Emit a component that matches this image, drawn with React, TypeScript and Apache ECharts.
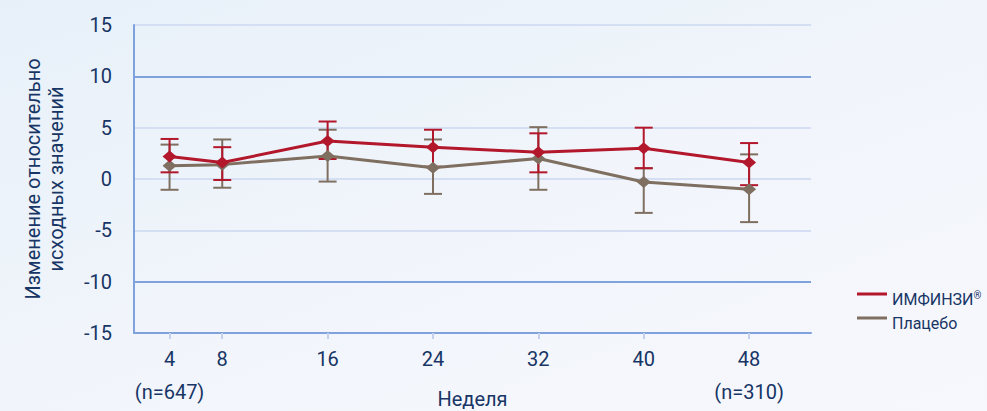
import React, { useEffect, useRef } from "react";
import * as echarts from "echarts";

const weeks = [4, 8, 16, 24, 32, 40, 48];
const tickLabels = ["4\n(n=647)", "8", "16", "24", "32", "40", "48\n(n=310)"];
const imfinziMean = [2.2, 1.6, 3.7, 3.1, 2.6, 3.0, 1.6];
const imfinziUpper = [3.9, 3.1, 5.6, 4.8, 4.45, 5.0, 3.5];
const imfinziLower = [0.65, -0.1, 1.95, 1.2, 0.65, 1.05, -0.6];
const placeboMean = [1.3, 1.4, 2.25, 1.1, 2.0, -0.3, -1.0];
const placeboUpper = [3.35, 3.85, 4.8, 3.85, 5.05, 1.05, 2.4];
const placeboLower = [-1.05, -0.85, -0.25, -1.45, -1.05, -3.3, -4.2];

const RED = "#b3172b";
const BROWN = "#7f6f60";
const TEXT = "#173565";
const FONT = "Roboto, 'Noto Sans', sans-serif";

function errorSeries(name: string, lows: number[], highs: number[], color: string) {
  return {
    type: "custom",
    name: name + "_err",
    silent: true,
    data: weeks.map((w, i) => [w, lows[i], highs[i]]),
    renderItem: (params: any, api: any) => {
      const x = api.value(0);
      const lo = api.coord([x, api.value(1)]);
      const hi = api.coord([x, api.value(2)]);
      const hw = 9;
      const style = { stroke: color, lineWidth: 2 };
      return {
        type: "group",
        children: [
          { type: "line", shape: { x1: lo[0], y1: lo[1], x2: hi[0], y2: hi[1] }, style },
          { type: "line", shape: { x1: lo[0] - hw, y1: lo[1], x2: lo[0] + hw, y2: lo[1] }, style },
          { type: "line", shape: { x1: hi[0] - hw, y1: hi[1], x2: hi[0] + hw, y2: hi[1] }, style },
        ],
      };
    },
    z: 2,
  };
}

export default function App() {
  const ref = useRef<HTMLDivElement>(null);
  useEffect(() => {
    if (!ref.current) return;
    const chart = echarts.init(ref.current, null, { renderer: "svg" });
    chart.setOption({
      animation: false,
      backgroundColor: "transparent",
      textStyle: { fontFamily: FONT },
      grid: { left: 134, right: 176, top: 25, bottom: 78, containLabel: false, outerBoundsMode: "none" },
      legend: {
        orient: "vertical",
        left: 852,
        top: 285,
        itemWidth: 30,
        itemHeight: 3,
        itemGap: 8,
        icon: "rect",
        data: ["ИМФИНЗИ", "Плацебо"],
        formatter: (n: string) => (n === "ИМФИНЗИ" ? "ИМФИНЗИ{sup|®}" : n),
        textStyle: {
          color: TEXT,
          fontSize: 16,
          fontFamily: FONT,
          padding: [10, 0, 0, 0],
          rich: { sup: { fontSize: 10, verticalAlign: "top", padding: [0, 0, 8, 0], color: TEXT } },
        },
      },
      xAxis: {
        type: "value",
        min: 1.3,
        max: 52.7,
        name: "Неделя",
        nameLocation: "middle",
        nameGap: 56,
        nameMoveOverlap: false,
        nameTextStyle: { color: TEXT, fontSize: 20, fontFamily: FONT },
        axisLine: { show: true, onZero: false, lineStyle: { color: "#7fa1dc", width: 2 } },
        axisTick: { show: true, customValues: weeks, length: 6, lineStyle: { color: "#c3d1ef", width: 2 } },
        axisLabel: {
          customValues: weeks,
          margin: 9,
          color: TEXT,
          fontSize: 20,
          lineHeight: 33,
          fontFamily: FONT,
          formatter: (v: number) => {
            const i = weeks.indexOf(v);
            return i >= 0 ? tickLabels[i] : "";
          },
        },
        splitLine: { show: false },
      },
      yAxis: {
        type: "value",
        min: -15,
        max: 15,
        interval: 5,
        name: "Изменение относительно\nисходных значений",
        nameLocation: "middle",
        nameRotate: 90,
        nameGap: 67,
        nameMoveOverlap: false,
        nameTextStyle: { color: TEXT, fontSize: 20, lineHeight: 23, fontFamily: FONT },
        axisLine: { show: true, lineStyle: { color: "#7fa1dc", width: 2 } },
        axisTick: { show: false },
        axisLabel: { color: TEXT, fontSize: 20, margin: 22, fontFamily: FONT },
        splitLine: {
          show: true,
          lineStyle: {
            width: 2,
            color: ["#7fa1dc", "#7fa1dc", "#d5dff3", "#d5dff3", "#d5dff3", "#7fa1dc", "#d5dff3"],
          },
        },
      },
      series: [
        errorSeries("Плацебо", placeboLower, placeboUpper, BROWN),
        {
          type: "line",
          name: "Плацебо",
          data: weeks.map((w, i) => [w, placeboMean[i]]),
          color: BROWN,
          lineStyle: { color: BROWN, width: 3 },
          itemStyle: { color: BROWN },
          symbol: "diamond",
          symbolSize: [14, 12],
          z: 3,
        },
        errorSeries("ИМФИНЗИ", imfinziLower, imfinziUpper, RED),
        {
          type: "line",
          name: "ИМФИНЗИ",
          data: weeks.map((w, i) => [w, imfinziMean[i]]),
          color: RED,
          lineStyle: { color: RED, width: 3 },
          itemStyle: { color: RED },
          symbol: "diamond",
          symbolSize: [14, 12],
          z: 4,
        },
      ],
    });
    return () => chart.dispose();
  }, []);
  return (
    <div
      style={{
        position: "fixed",
        left: 0,
        top: 0,
        width: 987,
        height: 411,
        background: "linear-gradient(160deg, #e7f0f9 0%, #f1f5fb 50%, #f7f8fd 100%)",
      }}
    >
      <div ref={ref} style={{ width: 987, height: 411 }} />
    </div>
  );
}
